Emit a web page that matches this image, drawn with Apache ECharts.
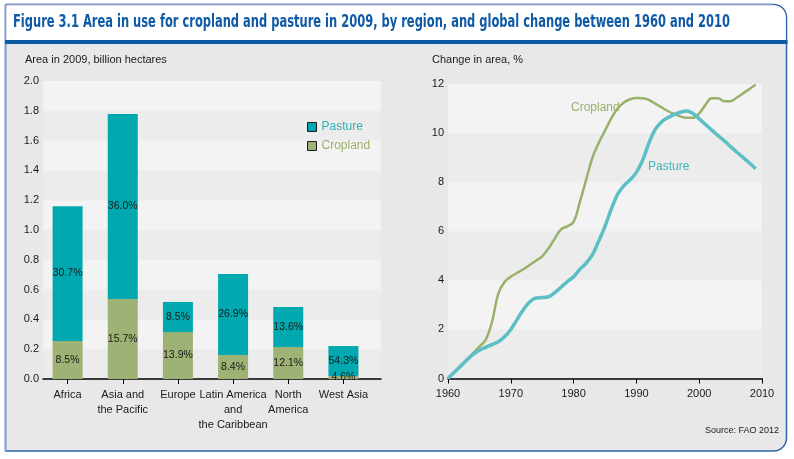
<!DOCTYPE html>
<html>
<head>
<meta charset="utf-8">
<script src="https://cdn.jsdelivr.net/npm/echarts@6/dist/echarts.min.js"></script>
<style>html,body{margin:0;padding:0;background:#fff}#c{width:794px;height:459px}</style>
</head>
<body>
<div id="c"></div>
<script>
// ---------- data ----------
const regions = ['Africa', 'Asia and\nthe Pacific', 'Europe', 'Latin America\nand\nthe Caribbean', 'North\nAmerica', 'West Asia'];
const croplandArea = [0.255, 0.537, 0.315, 0.161, 0.215, 0.02];
const pastureArea = [0.905, 1.241, 0.202, 0.544, 0.268, 0.201];
const croplandPct = ['8.5%', '15.7%', '13.9%', '8.4%', '12.1%', '4.6%'];
const pasturePct = ['30.7%', '36.0%', '8.5%', '26.9%', '13.6%', '54.3%'];

const years = [1960,1961,1962,1963,1964,1965,1966,1967,1968,1969,1970,1971,1972,1973,1974,1975,1976,1977,1978,1979,1980,1981,1982,1983,1984,1985,1986,1987,1988,1989,1990,1991,1992,1993,1994,1995,1996,1997,1998,1999,2000,2001,2002,2003,2004,2005,2006,2007,2008,2009];
const croplandChange = [0,0.26,0.52,0.78,1.03,1.3,1.58,2.3,3.45,3.93,4.15,4.3,4.45,4.62,4.8,4.98,5.3,5.7,6.08,6.2,6.38,7.2,8.1,9.0,9.6,10.1,10.6,11.0,11.25,11.38,11.43,11.42,11.35,11.2,11.05,10.9,10.78,10.68,10.62,10.62,10.8,11.15,11.42,11.42,11.3,11.3,11.45,11.62,11.8,11.97];
const pastureChange = [0,0.25,0.5,0.75,0.98,1.15,1.27,1.38,1.5,1.7,2.0,2.4,2.8,3.12,3.28,3.3,3.33,3.5,3.72,3.95,4.15,4.45,4.7,5.05,5.6,6.2,6.9,7.5,7.85,8.1,8.4,8.9,9.6,10.15,10.45,10.63,10.75,10.85,10.9,10.8,10.58,10.35,10.12,9.9,9.68,9.45,9.22,9.0,8.78,8.55];

const titleText = 'Figure 3.1 Area in use for cropland and pasture in 2009, by region, and global change between 1960 and 2010';
const leftAxisName = 'Area in 2009, billion hectares';
const rightAxisName = 'Change in area, %';
const sourceText = 'Source: FAO 2012';
// ---------- style ----------
const FONT = "'Liberation Sans', Arial, sans-serif";
const TFONT = "'DejaVu Sans Condensed', 'Liberation Sans', sans-serif";
const C_PAST = '#00a9b0', C_CROP = '#9db274';
const L_PAST = '#5cbfc5', L_CROP = '#98b16b';
const TXT = '#1a1a1a';
const bands = ['#ececec', '#f3f3f3'];

// horizontal squeeze so the condensed title fits its measured span
function fitScale(text, font, target) {
  const ctx = document.createElement('canvas').getContext('2d');
  ctx.font = font;
  return target / ctx.measureText(text).width;
}
const titleFont = 'bold 17px ' + TFONT;
const titleScale = fitScale(titleText, titleFont, 717);

const chart = echarts.init(document.getElementById('c'), null, {renderer: 'canvas'});

const pctLabel = (arr) => ({
  show: true, position: 'inside', color: TXT, fontFamily: FONT, fontSize: 10.5,
  formatter: p => arr[p.dataIndex]
});

chart.setOption({
  backgroundColor: '#ffffff',
  animation: false,
  textStyle: {fontFamily: FONT},
  graphic: [
    {type: 'rect', z: -100, shape: {x: 5.5, y: 4.5, width: 781, height: 446.5, r: [0, 13, 13, 0]},
     style: {fill: '#e8e8e8', stroke: '#2e65ae', lineWidth: 1.5}},
    {type: 'rect', z: -99, shape: {x: 6.3, y: 5.3, width: 779.4, height: 35, r: [0, 12, 0, 0]},
     style: {fill: '#ffffff'}},
    {type: 'line', z: -98, shape: {x1: 5.5, y1: 4.5, x2: 773, y2: 4.5}, style: {stroke: '#8a9dc8', lineWidth: 1.5}},
    {type: 'line', z: -98, shape: {x1: 5.5, y1: 4.5, x2: 5.5, y2: 451}, style: {stroke: '#8a9dc8', lineWidth: 1.5}},
    {type: 'rect', z: -97, shape: {x: 5, y: 40, width: 782.5, height: 4}, style: {fill: '#0b5aa4'}},
    {type: 'text', z: 100, x: 13, y: 14, scaleX: titleScale, originX: 0,
     style: {text: titleText, font: titleFont, fill: '#0f5aa5'}},
    {type: 'text', z: 100, x: 25, y: 54, style: {text: leftAxisName, font: '11px ' + FONT, fill: TXT}},
    {type: 'text', z: 100, x: 432, y: 54, style: {text: rightAxisName, font: '11px ' + FONT, fill: TXT}},
    {type: 'text', z: 100, x: 571, y: 102, style: {text: 'Cropland', font: '12px ' + FONT, fill: L_CROP}},
    {type: 'text', z: 100, x: 648, y: 161, style: {text: 'Pasture', font: '12px ' + FONT, fill: '#3fb6bd'}},
    {type: 'text', z: 100, x: 705, y: 426, style: {text: sourceText, font: '9px ' + FONT, fill: TXT}}
  ],
  legend: {
    orient: 'vertical', left: 302, top: 116, itemWidth: 9, itemHeight: 9, itemGap: 7,
    icon: 'rect', selectedMode: false,
    itemStyle: {borderColor: '#1a1a1a', borderWidth: 1},
    data: [
      {name: 'Pasture', textStyle: {color: '#2fb0b8'}},
      {name: 'Cropland', textStyle: {color: '#9bb06a'}}
    ],
    textStyle: {fontFamily: FONT, fontSize: 12}
  },
  grid: [
    {left: 43, right: 413, top: 81, bottom: 80},
    {left: 40, width: 331, top: 81, bottom: 80},
    {left: 448, right: 32, top: 84, bottom: 80.5}
  ],
  xAxis: [
    {gridIndex: 0, type: 'value', min: 0, max: 1, axisLine: {show: true, lineStyle: {color: '#000', width: 1.5}},
     axisTick: {show: false}, axisLabel: {show: false}, splitLine: {show: false}},
    {gridIndex: 1, type: 'category', data: regions, axisLine: {show: false},
     axisTick: {show: true, alignWithLabel: true, length: 5, lineStyle: {color: '#000'}},
     axisLabel: {color: TXT, fontFamily: FONT, fontSize: 11, lineHeight: 15, margin: 8, interval: 0}},
    {gridIndex: 2, type: 'value', min: 1960, max: 2010, interval: 10,
     axisLine: {show: true, lineStyle: {color: '#000', width: 1.5}},
     axisTick: {show: true, length: 5, lineStyle: {color: '#000'}},
     axisLabel: {color: TXT, fontFamily: FONT, fontSize: 11, margin: 10, formatter: v => String(v)},
     splitLine: {show: false}}
  ],
  yAxis: [
    {gridIndex: 0, type: 'value', min: 0, max: 2, interval: 0.2,
     axisLine: {show: false}, axisTick: {show: false},
     axisLabel: {color: TXT, fontFamily: FONT, fontSize: 11, margin: 4, formatter: v => v.toFixed(1)},
     splitLine: {show: false}, splitArea: {show: true, areaStyle: {color: bands}}},
    {gridIndex: 1, type: 'value', min: 0, max: 2, show: false},
    {gridIndex: 2, type: 'value', min: 0, max: 12, interval: 2,
     axisLine: {show: false}, axisTick: {show: false},
     axisLabel: {color: TXT, fontFamily: FONT, fontSize: 11, margin: 4},
     splitLine: {show: false}, splitArea: {show: true, areaStyle: {color: bands}}}
  ],
  series: [
    {name: 'Cropland', type: 'bar', xAxisIndex: 1, yAxisIndex: 1, stack: 'a', barWidth: 30,
     itemStyle: {color: C_CROP}, data: croplandArea, label: pctLabel(croplandPct)},
    {name: 'Pasture', type: 'bar', xAxisIndex: 1, yAxisIndex: 1, stack: 'a', barWidth: 30,
     itemStyle: {color: C_PAST}, data: pastureArea, label: pctLabel(pasturePct)},
    {name: 'Cropland line', type: 'line', xAxisIndex: 2, yAxisIndex: 2, smooth: 0.4, showSymbol: false,
     lineStyle: {color: L_CROP, width: 2.5}, data: years.map((y, i) => [y, croplandChange[i]])},
    {name: 'Pasture line', type: 'line', xAxisIndex: 2, yAxisIndex: 2, smooth: 0.4, showSymbol: false,
     lineStyle: {color: L_PAST, width: 3.5}, data: years.map((y, i) => [y, pastureChange[i]])}
  ]
});
</script>
</body>
</html>
